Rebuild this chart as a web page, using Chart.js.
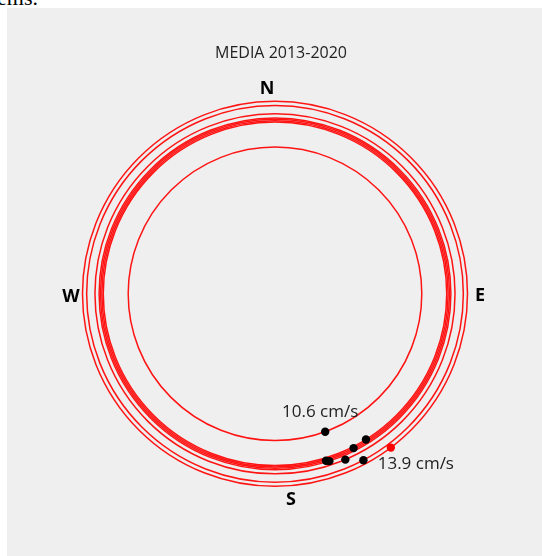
<!DOCTYPE html>
<html>
<head>
<meta charset="utf-8">
<script src="https://cdn.jsdelivr.net/npm/chart.js@4.4.1/dist/chart.umd.min.js"></script>
<style>
    html, body { margin: 0; padding: 0; background: #fff; overflow: hidden; }
    body { width: 542px; height: 556px; position: relative; }
    #clip { position: absolute; left: -3px; top: -13px; font: 22px "Liberation Serif", serif; line-height: 22px; color: #000; }
    #panel { position: absolute; left: 7px; top: 8px; width: 535px; height: 548px; background: #efefef; }
    canvas { display: block; }
</style>
</head>
<body>
<div id="clip">ems.</div>
<div id="panel"><canvas id="rose" width="535" height="548"></canvas></div>
<script>
// yearly mean current, speed in cm/s and direction in degrees clockwise from north
const speeds = [10.6, 12.4, 12.5, 12.6, 12.7, 13.0, 13.6, 13.9];
const directions = [160, 148, 153, 163, 162, 157, 152, 143];
const cardinals = ['N', 'E', 'S', 'W'];
const title = 'MEDIA 2013-2020';

const PX_PER_UNIT = 14.07;
const CENTER = { x: 268, y: 286 };

const maxSpeed = Math.max(...speeds);
const minSpeed = Math.min(...speeds);

const points = speeds.map((s, i) => {
    const a = directions[i] * Math.PI / 180;
    return { x: s * Math.sin(a), y: s * Math.cos(a) };
});

// one circle per year, radius = speed, through the scale
const ringsPlugin = {
    id: 'rings',
    beforeDatasetsDraw(chart) {
        const { ctx, scales: { x, y } } = chart;
        const cx = x.getPixelForValue(0);
        const cy = y.getPixelForValue(0);
        ctx.save();
        ctx.strokeStyle = '#ff1414';
        ctx.lineWidth = 1.5;
        speeds.forEach(s => {
            const r = x.getPixelForValue(s) - cx;
            ctx.beginPath();
            ctx.arc(cx, cy, r, 0, Math.PI * 2);
            ctx.stroke();
        });
        ctx.restore();
    }
};

const textPlugin = {
    id: 'texts',
    afterDraw(chart) {
        const { ctx, scales: { x, y } } = chart;
        const cx = x.getPixelForValue(0);
        const cy = y.getPixelForValue(0);
        ctx.save();
        ctx.textAlign = 'center';
        ctx.textBaseline = 'middle';
        ctx.fillStyle = '#222';
        ctx.font = '16px "Open Sans"';
        ctx.fillText(title, cx + 6, cy - 240);

        ctx.fillStyle = '#000';
        ctx.font = 'bold 18px "Open Sans"';
        const offs = { N: [-8, -205], E: [205, 2], S: [16, 206], W: [-204, 3] };
        cardinals.forEach(c => ctx.fillText(c, cx + offs[c][0], cy + offs[c][1]));

        // speed labels for the weakest and strongest years
        ctx.fillStyle = '#222';
        ctx.font = '17px "Open Sans"';
        const iMin = speeds.indexOf(minSpeed);
        const iMax = speeds.indexOf(maxSpeed);
        const pMin = points[iMin], pMax = points[iMax];
        ctx.fillText(minSpeed.toFixed(1) + ' cm/s', x.getPixelForValue(pMin.x) - 5, y.getPixelForValue(pMin.y) - 20);
        ctx.fillText(maxSpeed.toFixed(1) + ' cm/s', x.getPixelForValue(pMax.x) + 25, y.getPixelForValue(pMax.y) + 17);
        ctx.restore();
    }
};

const canvas = document.getElementById('rose');
const W = canvas.width, H = canvas.height;

new Chart(canvas.getContext('2d'), {
    type: 'scatter',
    data: {
        datasets: [{
            data: points,
            pointRadius: 4.2,
            pointBorderWidth: 0,
            pointBackgroundColor: speeds.map(s => s === maxSpeed ? '#ff0000' : '#000000'),
            pointBorderColor: speeds.map(s => s === maxSpeed ? '#ff0000' : '#000000')
        }]
    },
    options: {
        responsive: false,
        animation: false,
        devicePixelRatio: 1,
        layout: { padding: 0 },
        plugins: { legend: { display: false }, tooltip: { enabled: false } },
        scales: {
            x: { type: 'linear', display: false, min: -CENTER.x / PX_PER_UNIT, max: (W - CENTER.x) / PX_PER_UNIT },
            y: { type: 'linear', display: false, min: -(H - CENTER.y) / PX_PER_UNIT, max: CENTER.y / PX_PER_UNIT }
        }
    },
    plugins: [ringsPlugin, textPlugin]
});
</script>
</body>
</html>
